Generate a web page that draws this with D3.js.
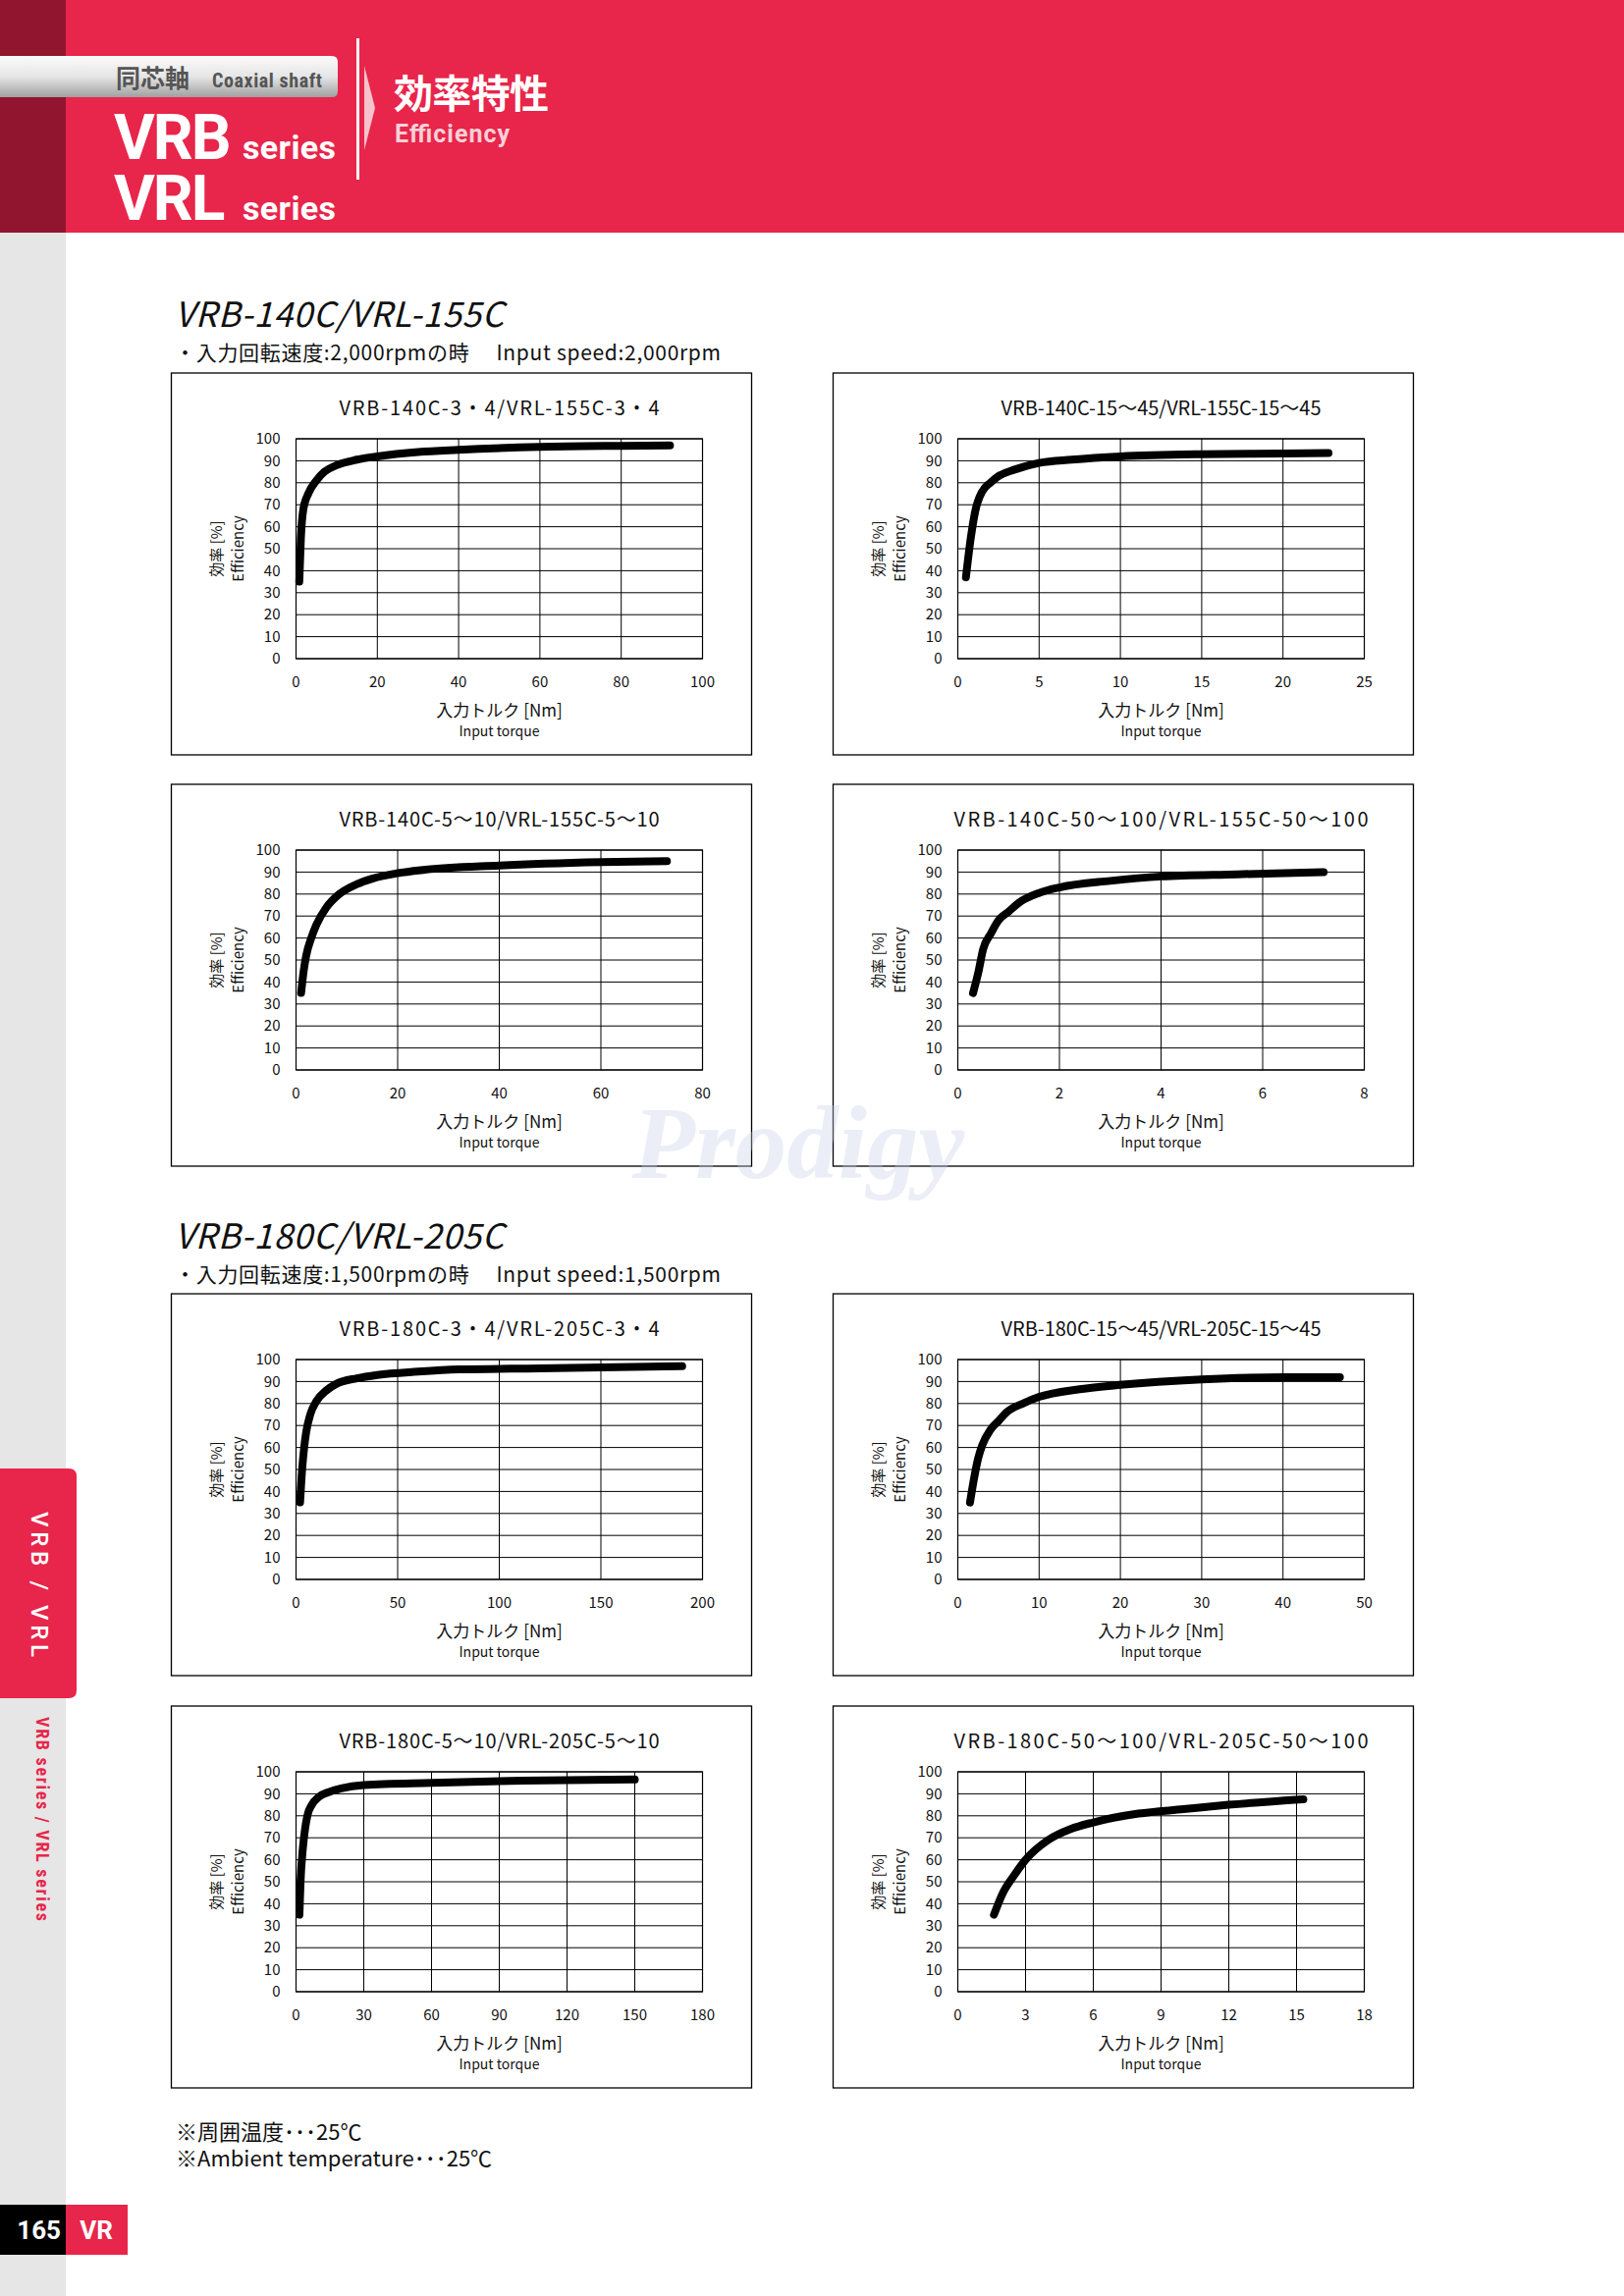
<!DOCTYPE html>
<html><head><meta charset="utf-8">
<script src="https://cdn.jsdelivr.net/npm/d3@7"></script>
<style>body{margin:0;background:#fff}svg{display:block}</style>
</head><body>
<script>
const chartTitles = [
 "VRB-140C-3・4/VRL-155C-3・4","VRB-140C-15～45/VRL-155C-15～45",
 "VRB-140C-5～10/VRL-155C-5～10","VRB-140C-50～100/VRL-155C-50～100",
 "VRB-180C-3・4/VRL-205C-3・4","VRB-180C-15～45/VRL-205C-15～45",
 "VRB-180C-5～10/VRL-205C-5～10","VRB-180C-50～100/VRL-205C-50～100"];
const xMax = [100,25,80,8,200,50,180,18];
const xTickStep = [20,5,20,2,50,10,30,3];
const yTicks = [0,10,20,30,40,50,60,70,80,90,100];
const torque = [
 [0.8,1.2,1.8,3,5,7,10,15,20,30,40,60,80,92],
 [0.5,0.8,1.1,1.5,2,2.5,3.5,5,7,10,15,20,22.8],
 [1,1.5,2,3,4,6,8,12,15,20,25,40,60,73],
 [0.3,0.4,0.5,0.65,0.8,1,1.2,1.6,2,3,4,5.5,7.2],
 [2,3,4,5,7,10,15,20,30,40,60,80,120,190],
 [1.5,2,2.5,3,4,5,6,8,10,15,20,30,40,47],
 [1.5,2,3,4,5,7,10,15,20,30,60,100,150],
 [1.6,2,2.5,3,4,5,6,8,10,12,15.3]];
const efficiency = [
 [35,55,68,75,81,85,88,90.5,92,94,95,96.3,96.8,97],
 [37,55,68,76,80,83,86,89,90.5,92,93,93.3,93.5],
 [35,45,52,60,66,74,79,84.5,87,89.5,91,93,94.5,95],
 [35,44,55,62,68,72,76,80.5,83,86,88,89,90],
 [35,50,60,67,75,81,86,89,91.5,93,94.5,95.5,96,97],
 [35,46,55,61,68,72,76,80,83,86.5,88.5,91,92,92],
 [35,50,65,74,80,85,88.5,91,92.5,94,95,96,96.5],
 [35,45,53,60,69,74,77,81,83,85,87.5]];
const sections = [
 {title:"VRB-140C/VRL-155C", sub:"・入力回転速度:2,000rpmの時　 Input speed:2,000rpm"},
 {title:"VRB-180C/VRL-205C", sub:"・入力回転速度:1,500rpmの時　 Input speed:1,500rpm"}];
const notes = ["※周囲温度･･･25℃","※Ambient temperature･･･25℃"];

const W=1654,H=2339, F="'Noto Sans CJK JP','DejaVu Sans',sans-serif";
const svg=d3.select("body").append("svg").attr("width",W).attr("height",H);
const RED="#e8254a";
svg.append("rect").attr("x",0).attr("y",0).attr("width",67).attr("height",H).attr("fill","#e6e6e6");
svg.append("rect").attr("x",0).attr("y",0).attr("width",W).attr("height",237).attr("fill",RED);
svg.append("rect").attr("x",0).attr("y",0).attr("width",67).attr("height",237).attr("fill","#921530");
const defs=svg.append("defs");
const g1=defs.append("linearGradient").attr("id","pill").attr("x1",0).attr("y1",0).attr("x2",0).attr("y2",1);
g1.append("stop").attr("offset",0).attr("stop-color","#fafafa");
g1.append("stop").attr("offset",0.5).attr("stop-color","#e6e6e6");
g1.append("stop").attr("offset",1).attr("stop-color","#a0a0a0");
svg.append("path").attr("d","M0,57 H338 Q344,57 344,63 V93 Q344,99 338,99 H0 Z").attr("fill","url(#pill)");
svg.append("text").attr("x",118).attr("y",89).attr("font-family",F).attr("font-size",25).attr("font-weight",700).attr("fill","#555").text("同芯軸");
svg.append("text").attr("x",216).attr("y",89).attr("font-family","'Liberation Sans Narrow','Roboto Condensed',Roboto,sans-serif").attr("font-size",20).attr("font-weight",700).attr("fill","#555").attr("textLength",112).text("Coaxial shaft");
const hf="Roboto,'Liberation Sans',sans-serif";
[["VRB",162],["VRL",224]].forEach(([t,yy])=>{
  svg.append("text").attr("x",116).attr("y",yy).attr("font-family",hf).attr("font-size",64).attr("font-weight",700).attr("fill","#fff").attr("letter-spacing",-2).text(t);
  svg.append("text").attr("x",247).attr("y",yy).attr("font-family",hf).attr("font-size",34).attr("font-weight",700).attr("fill","#fff").attr("textLength",95).text("series");
});
svg.append("rect").attr("x",363).attr("y",39).attr("width",3).attr("height",144).attr("fill","#fff");
svg.append("path").attr("d","M371,67 L382,110 L371,153 Z").attr("fill","#f6c2cc");
svg.append("text").attr("x",401).attr("y",110).attr("font-family",F).attr("font-size",40).attr("font-weight",700).attr("fill","#fff").attr("textLength",158).text("効率特性");
svg.append("text").attr("x",402).attr("y",145).attr("font-family",hf).attr("font-size",25).attr("font-weight",700).attr("fill","#f7d0d8").attr("textLength",117).text("Efficiency");
// side tab
svg.append("path").attr("d","M0,1496 H70 Q78,1496 78,1504 V1722 Q78,1730 70,1730 H0 Z").attr("fill",RED);
svg.append("text").attr("transform","translate(40,1614) rotate(90)").attr("font-family",hf).attr("font-size",24).attr("font-weight",500).attr("fill","#fff").attr("text-anchor","middle").attr("dy","0.35em").attr("textLength",148).text("VRB / VRL");
svg.append("text").attr("transform","translate(43,1853) rotate(90)").attr("font-family","'Liberation Sans Narrow','Roboto Condensed',sans-serif").attr("font-size",18).attr("font-weight",700).attr("fill",RED).attr("text-anchor","middle").attr("dy","0.35em").attr("textLength",208).text("VRB series / VRL series");
svg.append("rect").attr("x",0).attr("y",2246).attr("width",67).attr("height",51).attr("fill","#000");
svg.append("rect").attr("x",67).attr("y",2246).attr("width",63).attr("height",51).attr("fill",RED);
svg.append("text").attr("x",62).attr("y",2281).attr("text-anchor","end").attr("font-family",hf).attr("font-size",26).attr("font-weight",700).attr("fill","#fff").text("165");
svg.append("text").attr("x",98).attr("y",2281).attr("text-anchor","middle").attr("font-family",hf).attr("font-size",26).attr("font-weight",700).attr("fill","#fff").text("VR");
// sections
const secY=[[333,367],[1272,1306]];
sections.forEach((s,i)=>{
  svg.append("text").attr("x",178).attr("y",secY[i][0]).attr("font-family",F).attr("font-style","italic").attr("font-size",35).attr("fill","#111").attr("textLength",335).text(s.title);
  svg.append("text").attr("x",178).attr("y",secY[i][1]).attr("font-family",F).attr("font-size",21).attr("fill","#111").attr("textLength",556).text(s.sub);
});
notes.forEach((n,i)=>svg.append("text").attr("x",179).attr("y",2180+i*27).attr("font-family",F).attr("font-size",22).attr("fill","#111").text(n));
// charts
const colX=[174.5,848.5], rowY=[380,799,1318,1738];
chartTitles.forEach((t,i)=>{
  const bx=colX[i%2], by=rowY[Math.floor(i/2)];
  const g=svg.append("g").attr("transform",`translate(${bx},${by})`);
  g.append("rect").attr("width",591).attr("height",389).attr("fill","#fff").attr("stroke","#000").attr("stroke-width",1.3);
  const L=127,R=541,T=67,B=291;
  const x=d3.scaleLinear().domain([0,xMax[i]]).range([L,R]);
  const y=d3.scaleLinear().domain([0,100]).range([B,T]);
  const xt=d3.range(0,xMax[i]+1e-9,xTickStep[i]);
  g.append("text").attr("x",(L+R)/2).attr("y",43).attr("text-anchor","middle").attr("font-family",F).attr("font-size",20).attr("fill","#111").attr("textLength",t.length>30?422:326).text(t);
  g.append("g").selectAll("line").data(yTicks).join("line").attr("x1",L).attr("x2",R).attr("y1",d=>y(d)).attr("y2",d=>y(d)).attr("stroke","#000").attr("stroke-width",1);
  g.append("g").selectAll("line").data(xt).join("line").attr("y1",T).attr("y2",B).attr("x1",d=>x(d)).attr("x2",d=>x(d)).attr("stroke","#000").attr("stroke-width",1);
  g.append("rect").attr("x",L).attr("y",T).attr("width",R-L).attr("height",B-T).attr("fill","none").attr("stroke","#000").attr("stroke-width",1.2);
  g.append("g").selectAll("text").data(yTicks).join("text").attr("x",L-16).attr("y",d=>y(d)).attr("dy","0.35em").attr("text-anchor","end").attr("font-family",F).attr("font-size",15).attr("fill","#111").text(d=>d);
  g.append("g").selectAll("text").data(xt).join("text").attr("x",d=>x(d)).attr("y",B+29).attr("text-anchor","middle").attr("font-family",F).attr("font-size",15).attr("fill","#111").text(d=>d);
  g.append("text").attr("x",(L+R)/2).attr("y",B+59).attr("text-anchor","middle").attr("font-family",F).attr("font-size",17).attr("fill","#111").text("入力トルク [Nm]");
  g.append("text").attr("x",(L+R)/2).attr("y",B+79).attr("text-anchor","middle").attr("font-family",F).attr("font-size",14).attr("fill","#111").text("Input torque");
  g.append("text").attr("transform",`translate(51,${(T+B)/2}) rotate(-90)`).attr("text-anchor","middle").attr("font-family",F).attr("font-size",15).attr("fill","#111").text("効率 [%]");
  g.append("text").attr("transform",`translate(73,${(T+B)/2}) rotate(-90)`).attr("text-anchor","middle").attr("font-family",F).attr("font-size",15).attr("fill","#111").text("Efficiency");
  const pts=torque[i].map((v,k)=>[v,efficiency[i][k]]);
  g.append("path").attr("d",d3.line().x(d=>x(d[0])).y(d=>y(d[1])).curve(d3.curveMonotoneX)(pts)).attr("fill","none").attr("stroke","#000").attr("stroke-width",8).attr("stroke-linecap","round");
});
svg.append("text").attr("x",813).attr("y",1200).attr("text-anchor","middle").attr("font-family","'Liberation Serif',serif").attr("font-style","italic").attr("font-weight",700).attr("font-size",105).attr("fill","#c8d0e6").attr("opacity",0.35).text("Prodigy");
</script>
</body></html>
